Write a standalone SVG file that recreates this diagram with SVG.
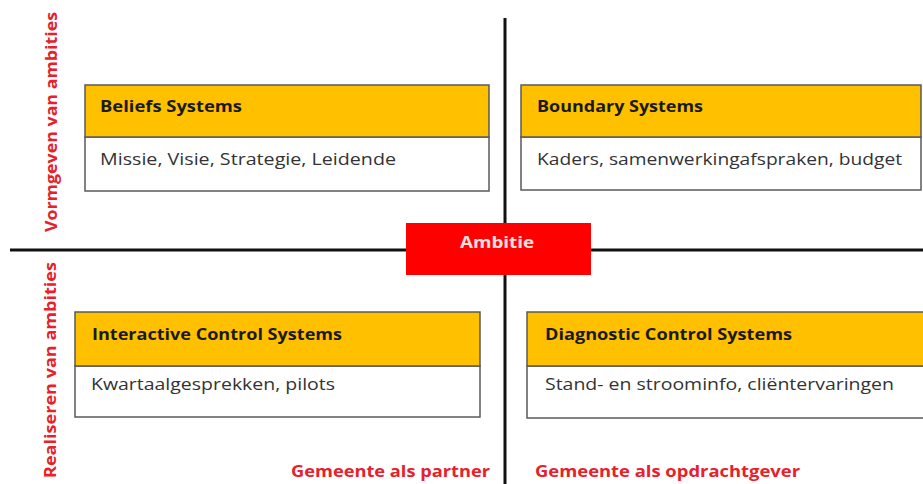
<svg xmlns="http://www.w3.org/2000/svg" width="923" height="484" viewBox="0 0 923 484">
<style>
.hd{fill:#FFC000;stroke:#5a5a5a;stroke-width:1.5}
.bd{fill:#fff;stroke:#5a5a5a;stroke-width:1.5}
.t{font-family:"Open Sans","Liberation Sans",sans-serif;font-size:16px;font-weight:bold;fill:#1a1a1a}
.b{font-family:"Open Sans","Liberation Sans",sans-serif;font-size:16px;fill:#333}
.r{font-family:"Open Sans","Liberation Sans",sans-serif;font-size:16px;font-weight:bold;fill:#e8202a}
.ax{stroke:#111;stroke-width:3}
</style>
<rect width="923" height="484" fill="#fff"/>
<g id="axes">
<line class="ax" x1="10" y1="250" x2="923" y2="250"/>
<line class="ax" x1="505" y1="18" x2="505" y2="484"/>
</g>
<g id="beliefs">
<rect class="bd" x="85" y="137" width="404" height="54"/>
<rect class="hd" x="85" y="85" width="404" height="52"/>
<text class="t" x="100" y="112" textLength="142" lengthAdjust="spacingAndGlyphs">Beliefs Systems</text>
<text class="b" x="100" y="165" textLength="296" lengthAdjust="spacingAndGlyphs">Missie, Visie, Strategie, Leidende</text>
</g>
<g id="boundary">
<rect class="bd" x="521" y="137" width="400" height="53"/>
<rect class="hd" x="521" y="85" width="400" height="52"/>
<text class="t" x="537" y="112" textLength="166" lengthAdjust="spacingAndGlyphs">Boundary Systems</text>
<text class="b" x="537" y="165" textLength="365" lengthAdjust="spacingAndGlyphs">Kaders, samenwerkingafspraken, budget</text>
</g>
<g id="interactive">
<rect class="bd" x="75" y="366" width="405" height="51"/>
<rect class="hd" x="75" y="312" width="405" height="54"/>
<text class="t" x="92" y="340" textLength="250" lengthAdjust="spacingAndGlyphs">Interactive Control Systems</text>
<text class="b" x="91" y="390" textLength="244" lengthAdjust="spacingAndGlyphs">Kwartaalgesprekken, pilots</text>
</g>
<g id="diagnostic">
<rect class="bd" x="527" y="366" width="400" height="52"/>
<rect class="hd" x="527" y="312" width="400" height="54"/>
<text class="t" x="545" y="340" textLength="247" lengthAdjust="spacingAndGlyphs">Diagnostic Control Systems</text>
<text class="b" x="545" y="390" textLength="349" lengthAdjust="spacingAndGlyphs">Stand- en stroominfo, cliëntervaringen</text>
</g>
<g id="ambitie">
<rect x="406" y="223" width="185" height="52" fill="#ff0000"/>
<text x="497" y="248" text-anchor="middle" font-family="'Open Sans','Liberation Sans',sans-serif" font-size="16" font-weight="bold" fill="#ffe0e0" textLength="74" lengthAdjust="spacingAndGlyphs">Ambitie</text>
</g>
<g id="labels">
<text class="r" transform="translate(57,232) rotate(-90)" textLength="220" lengthAdjust="spacingAndGlyphs">Vormgeven van ambities</text>
<text class="r" transform="translate(56,478) rotate(-90)" textLength="216" lengthAdjust="spacingAndGlyphs">Realiseren van ambities</text>
<text class="r" x="291" y="477" textLength="199" lengthAdjust="spacingAndGlyphs">Gemeente als partner</text>
<text class="r" x="535" y="477" textLength="265" lengthAdjust="spacingAndGlyphs">Gemeente als opdrachtgever</text>
</g>
</svg>
